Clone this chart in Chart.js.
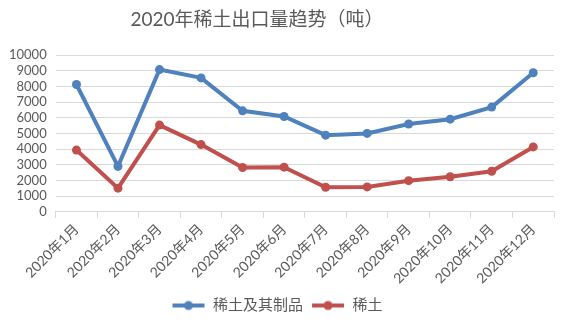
<!DOCTYPE html>
<html>
<head>
<meta charset="utf-8">
<script src="https://cdn.jsdelivr.net/npm/chart.js@4"></script>
<style>
  html, body { margin: 0; padding: 0; background: #fff; }
  #wrap { width: 566px; height: 323px; }
</style>
</head>
<body>
<div id="wrap"><canvas id="myChart" width="566" height="323"></canvas></div>
<script>
// chart data
const months = ["2020年1月", "2020年2月", "2020年3月", "2020年4月", "2020年5月", "2020年6月",
    "2020年7月", "2020年8月", "2020年9月", "2020年10月", "2020年11月", "2020年12月"];
const totalValues = [8120, 2900, 9070, 8540, 6440, 6080, 4890, 5000, 5600, 5910, 6680, 8870];
const rareEarthValues = [3940, 1510, 5530, 4290, 2830, 2850, 1570, 1590, 1990, 2240, 2590, 4140];
const seriesNames = ["稀土及其制品", "稀土"];
const titleText = "2020年稀土出口量趋势（吨）";

const blue = "#4f81bd";
const red = "#c0504d";
const grey = "#595959";
const fontFamily = "Lato, 'Noto Sans CJK SC', sans-serif";

// legend marker: short line with a dot in the middle
function legendMarker(color) {
    let c = document.createElement("canvas");
    c.width = 34;
    c.height = 12;
    let g = c.getContext("2d");
    g.strokeStyle = color;
    g.lineWidth = 4;
    g.beginPath();
    g.moveTo(1, 6);
    g.lineTo(33, 6);
    g.stroke();
    g.fillStyle = color;
    g.beginPath();
    g.arc(17, 6, 4.5, 0, Math.PI * 2);
    g.fill();
    return c;
}

// title drawn by hand, a bit left of centre like the original
const titlePlugin = {
    id: 'leftTitle',
    afterDraw(chart) {
        let g = chart.ctx;
        g.save();
        g.fillStyle = grey;
        g.font = "19px " + fontFamily;
        g.textAlign = "center";
        g.textBaseline = "middle";
        g.fillText(titleText, 257, 20);
        g.restore();
    }
};

var ctx = document.getElementById('myChart').getContext('2d');
var myChart = new Chart(ctx, {
    type: 'line',
    plugins: [titlePlugin],
    data: {
        labels: months,
        datasets: [{
                data: totalValues,
                label: seriesNames[0],
                borderColor: blue,
                backgroundColor: blue,
                borderWidth: 4,
                pointRadius: 4.5,
                pointBackgroundColor: blue,
                pointBorderWidth: 0,
                pointStyle: 'circle',
                fill: false
            },
            {
                data: rareEarthValues,
                label: seriesNames[1],
                borderColor: red,
                backgroundColor: red,
                borderWidth: 4,
                pointRadius: 4.5,
                pointBackgroundColor: red,
                pointBorderWidth: 0,
                pointStyle: 'circle',
                fill: false
            }
        ]
    },
    options: {
        responsive: false,
        animation: false,
        layout: { padding: { left: 0, right: 12, top: 55, bottom: 0 } },
        elements: {
            line: { tension: 0 }
        },
        plugins: {
            title: { display: false },
            legend: {
                position: 'bottom',
                labels: {
                    usePointStyle: true,
                    pointStyleWidth: 34,
                    color: grey,
                    font: { family: fontFamily, size: 15 },
                    padding: 8,
                    generateLabels: function (chart) {
                        return chart.data.datasets.map(function (ds, i) {
                            return {
                                text: ds.label,
                                fontColor: grey,
                                pointStyle: legendMarker(ds.borderColor),
                                datasetIndex: i,
                                lineWidth: 0,
                                strokeStyle: 'transparent',
                                fillStyle: 'transparent'
                            };
                        });
                    }
                }
            },
            tooltip: { enabled: false }
        },
        scales: {
            x: {
                offset: true,
                grid: {
                    offset: true,
                    drawOnChartArea: false,
                    drawTicks: true,
                    tickLength: 6,
                    color: '#d9d9d9'
                },
                border: { color: '#d9d9d9' },
                ticks: {
                    color: grey,
                    font: { family: fontFamily, size: 14 },
                    maxRotation: 45,
                    minRotation: 45,
                    autoSkip: false
                }
            },
            y: {
                min: 0,
                max: 10000,
                ticks: {
                    stepSize: 1000,
                    autoSkip: false,
                    color: grey,
                    font: { family: fontFamily, size: 13 },
                    padding: 9,
                    callback: function (v) { return String(v); }
                },
                grid: {
                    color: '#d9d9d9',
                    drawTicks: false
                },
                border: { display: false }
            }
        }
    }
});
</script>
</body>
</html>
